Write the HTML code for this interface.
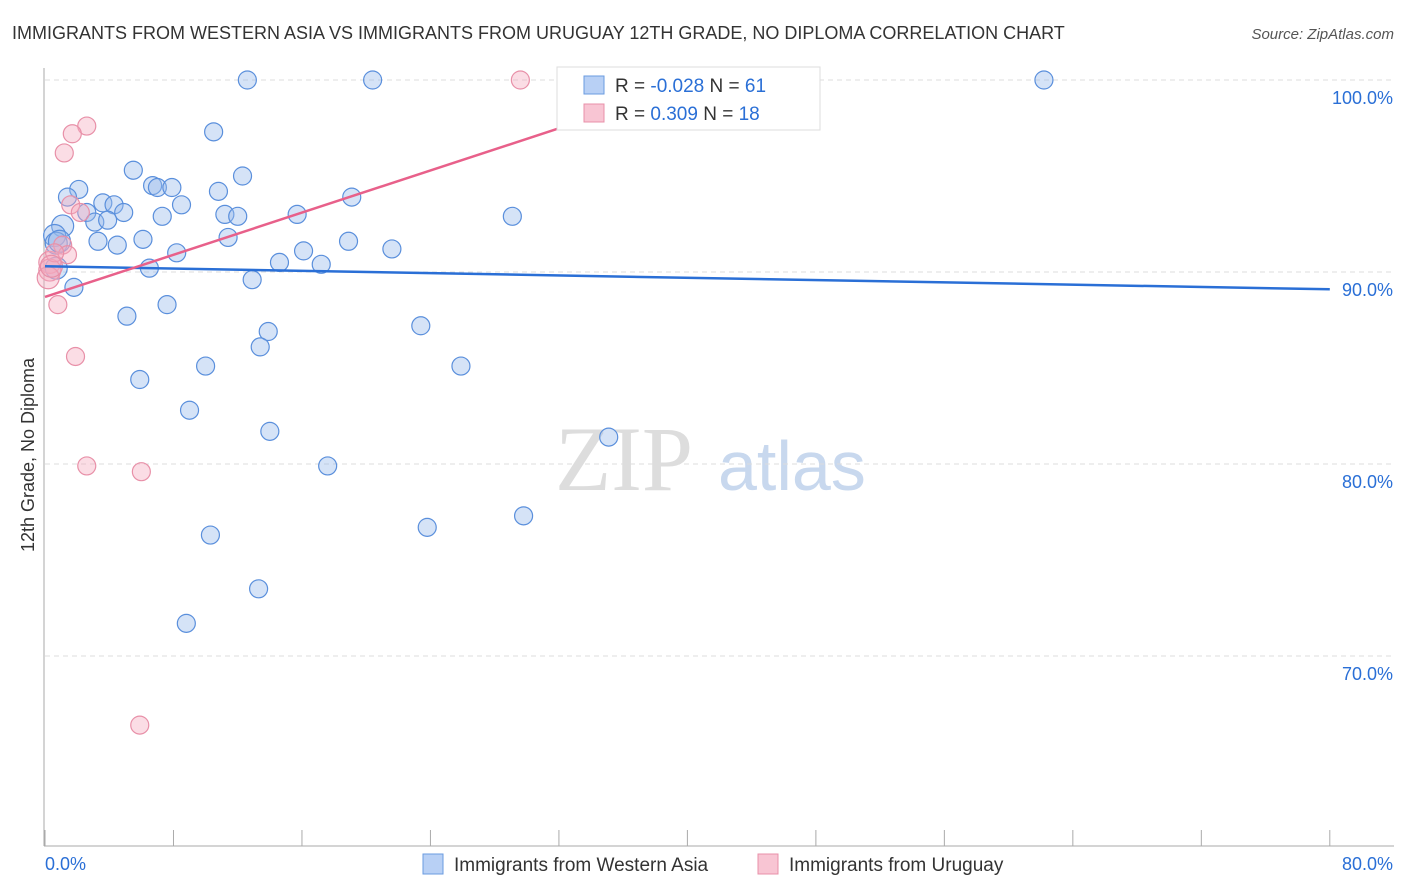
<!DOCTYPE html>
<html><head><meta charset="utf-8"><style>
body{margin:0;background:#fff;font-family:"Liberation Sans",sans-serif}
svg{display:block}
</style></head><body>
<svg id="c" width="1406" height="892">
<text x="12" y="39" font-size="18" fill="#333">IMMIGRANTS FROM WESTERN ASIA VS IMMIGRANTS FROM URUGUAY 12TH GRADE, NO DIPLOMA CORRELATION CHART</text>
<text x="1394" y="39" font-size="15" fill="#555" font-style="italic" text-anchor="end">Source: ZipAtlas.com</text>
<text x="34" y="455" font-size="18" fill="#333" transform="rotate(-90 34 455)" text-anchor="middle">12th Grade, No Diploma</text>
<text x="555" y="490" font-size="92" fill="#ddd" font-family="Liberation Serif">ZIP</text>
<text x="718" y="490" font-size="70" fill="#c8d8ee">atlas</text>
<g id="grid"></g><g id="pts"></g><g id="lines"></g>
<g>
<rect x="557" y="67" width="263" height="63" fill="#fff" stroke="#ddd"/>
<rect x="584" y="76" width="20" height="18" fill="#b8d0f5" stroke="#6a9be0"/>
<text x="615" y="92" font-size="19" fill="#333">R = <tspan fill="#2a6fd6">-0.028</tspan>   N = <tspan fill="#2a6fd6">61</tspan></text>
<rect x="584" y="104" width="20" height="18" fill="#f8c5d3" stroke="#e890a8"/>
<text x="615" y="120" font-size="19" fill="#333">R =   <tspan fill="#2a6fd6">0.309</tspan>   N = <tspan fill="#2a6fd6">18</tspan></text>
</g>
<g>
<rect x="423" y="854" width="20" height="20" fill="#b8d0f5" stroke="#6a9be0"/>
<text x="454" y="871" font-size="19" fill="#333">Immigrants from Western Asia</text>
<rect x="758" y="854" width="20" height="20" fill="#f8c5d3" stroke="#e890a8"/>
<text x="789" y="871" font-size="19" fill="#333">Immigrants from Uruguay</text>
</g>
</svg>
<script>
const yTicks=[100,90,80,70];
const xTickLabels=["0.0%","80.0%"];
const blueX=[12.6,20.4,42.3,62.2,10.5,5.5,12.3,6.7,7.0,7.9,2.1,10.8,1.4,19.1,3.6,4.3,8.5,2.6,4.9,7.3,11.2,12.0,15.7,29.1,3.1,3.9,1.1,0.6,11.4,6.1,3.3,4.5,18.9,0.7,0.9,16.1,21.6,8.2,14.6,17.2,0.7,6.5,12.9,1.8,7.6,5.1,23.4,13.9,13.4,10.0,25.9,5.9,9.0,14.0,35.1,17.6,29.8,23.8,10.3,13.3,8.8];
const blueY=[100,100,100,100,97.3,95.3,95.0,94.5,94.4,94.4,94.3,94.2,93.9,93.9,93.6,93.5,93.5,93.1,93.1,92.9,93.0,92.9,93.0,92.9,92.6,92.7,92.4,91.9,91.8,91.7,91.6,91.4,91.6,91.5,91.6,91.1,91.2,91.0,90.5,90.4,90.2,90.2,89.6,89.2,88.3,87.7,87.2,86.9,86.1,85.1,85.1,84.4,82.8,81.7,81.4,79.9,77.3,76.7,76.3,73.5,71.7];
const pinkX=[29.6,2.6,1.7,1.2,1.6,2.2,1.1,1.4,0.3,0.3,0.2,0.8,1.9,2.6,6.0,5.9,0.6,0.4];
const pinkY=[100,97.6,97.2,96.2,93.5,93.1,91.4,90.9,90.5,90.1,89.7,88.3,85.6,79.9,79.6,66.4,91.0,90.3];
const blueTrend=[0,90.3,80,89.1];
const pinkTrend=[0,88.7,40.8,99.9];
const X=v=>45+v*16.06, Y=v=>80+(100-v)*19.2;
const NS="http://www.w3.org/2000/svg";
function mk(t,a,p){const e=document.createElementNS(NS,t);for(const k in a)e.setAttribute(k,a[k]);p.appendChild(e);return e;}
const g=document.getElementById('grid');
yTicks.forEach(t=>{
 const l=mk('line',{x1:45,x2:1394,y1:Y(t),y2:Y(t),stroke:'#ddd','stroke-dasharray':'5,4'},g);
 
 
 const tx=mk('text',{x:1393,y:Y(t)+24,'font-size':18,fill:'#2a6fd6','text-anchor':'end'},g);
 tx.textContent=t.toFixed(1)+'%';
 
 
});
const ax=mk('line',{x1:44,x2:44,y1:68,y2:846,stroke:'#aaa'},g);


const bx=mk('line',{x1:44,x2:1394,y1:846,y2:846,stroke:'#aaa'},g);


for(let i=0;i<=10;i++){const t=mk('line',{x1:X(i*8),x2:X(i*8),y1:830,y2:846,stroke:'#aaa'},g);
 
 }
xTickLabels.forEach((s,i)=>{const t=mk('text',{x:i?1393:45,y:870,'font-size':18,fill:'#2a6fd6','text-anchor':i?'end':'start'},g);t.textContent=s;
 
 });
const p=document.getElementById('pts');
blueX.forEach((x,i)=>{const c=mk('circle',{cx:X(x),cy:Y(blueY[i]),r:x<1.2?11:9,fill:'rgba(150,185,235,0.4)',stroke:'#5a8fdc','stroke-width':1.2},p);
 
 });
pinkX.forEach((x,i)=>{const c=mk('circle',{cx:X(x),cy:Y(pinkY[i]),r:x<0.5?11:9,fill:'rgba(245,170,190,0.4)',stroke:'#e890a8','stroke-width':1.2},p);
 
 });
const L=document.getElementById('lines');
const b=mk('line',{x1:X(blueTrend[0]),y1:Y(blueTrend[1]),x2:X(blueTrend[2]),y2:Y(blueTrend[3]),stroke:'#2a6fd6','stroke-width':2.5},L);


const k=mk('line',{x1:X(pinkTrend[0]),y1:Y(pinkTrend[1]),x2:X(pinkTrend[2]),y2:Y(pinkTrend[3]),stroke:'#e8608a','stroke-width':2.5},L);


</script>
</body></html>
